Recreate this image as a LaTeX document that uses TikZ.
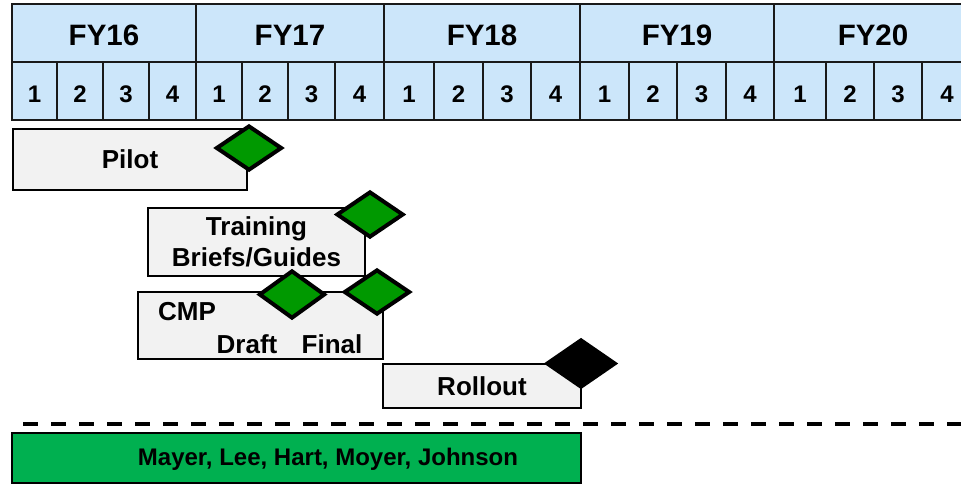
\documentclass[tikz,border=0pt]{standalone}
\usepackage{fontspec}
\setmainfont{Liberation Sans}
\usetikzlibrary{shapes.geometric}
\definecolor{hdr}{HTML}{CCE6FA}
\definecolor{barfill}{HTML}{F2F2F2}
\definecolor{msgreen}{HTML}{009900}
\definecolor{teamgreen}{HTML}{00B050}
\begin{document}
\begin{tikzpicture}[x=1pt,y=-1pt,
  yrbox/.style={draw=black!90, line width=2.5pt, fill=hdr, minimum height=58pt, inner sep=0pt, text height=25pt, text depth=0pt, font=\fontsize{29.5}{34}\selectfont\bfseries},
  qbox/.style={draw=black!90, line width=2pt, fill=hdr, minimum height=58pt, inner sep=0pt, text height=22pt, text depth=0pt, font=\fontsize{24}{28}\selectfont\bfseries},
  bar/.style={draw, line width=2pt, fill=barfill, inner sep=0pt, align=center, font=\fontsize{26}{31}\selectfont\bfseries},
  lbl/.style={inner sep=0pt, font=\fontsize{26}{31}\selectfont\bfseries},
  ms/.style={diamond, draw, line width=4pt, fill=msgreen, inner sep=0pt, minimum width=66pt, minimum height=45pt},
  msblack/.style={ms, fill=black},
  team/.style={draw, line width=2.5pt, fill=teamgreen, inner sep=0pt},
  teamlbl/.style={inner sep=0pt, font=\fontsize{24}{29}\selectfont\bfseries},
  sep/.style={line width=4pt, dash pattern=on 15pt off 13pt}
]
\useasboundingbox (0,0) rectangle (961,485);
\clip (0,0) rectangle (961,485);
% header
\foreach \yr/\a/\b/\c/\d/\e in {16/12/57/103/149/196, 17/196/242/288/335/384, 18/384/434/483/531/580, 19/580/629/677/726/774, 20/774/826/874/922/972}{
  \node[yrbox, minimum width={(\e-\a)*1pt}] (fy\yr) at ({(\a+\e)/2},33) {FY\yr};
  \node[qbox, minimum width={(\b-\a)*1pt}] (q\yr a) at ({(\a+\b)/2},91) {1};
  \node[qbox, minimum width={(\c-\b)*1pt}] (q\yr b) at ({(\b+\c)/2},91) {2};
  \node[qbox, minimum width={(\d-\c)*1pt}] (q\yr c) at ({(\c+\d)/2},91) {3};
  \node[qbox, minimum width={(\e-\d)*1pt}] (q\yr d) at ({(\d+\e)/2},91) {4};
}
% bars
\node[bar, minimum width=234pt, minimum height=61pt] (pilot) at (130,159.5) {Pilot};
\node[bar, minimum width=217pt, minimum height=68pt] (training) at (256.5,242) {Training\\Briefs/Guides};
\node[bar, minimum width=245pt, minimum height=67pt] (cmp) at (260.5,325.5) {};
\node[lbl] (cmplbl) at (187,312) {CMP};
\node[lbl] (draftlbl) at (247,344) {Draft};
\node[lbl] (finallbl) at (332,344) {Final};
\node[bar, minimum width=198pt, minimum height=44pt] (rollout) at (482,386) {Rollout};
% milestones
\node[ms] (mspilot) at (249,148) {};
\node[ms, minimum width=67pt, minimum height=46pt] (mstraining) at (370,214.5) {};
\node[ms, minimum height=48pt] (msdraft) at (292,294.5) {};
\node[ms] (msfinal) at (377,292) {};
\node[msblack, minimum width=69pt, minimum height=48pt] (msrollout) at (581,363.5) {};
% separator
\coordinate (sepl) at (23,424);
\coordinate (sepr) at (961,424);
\draw[sep] (sepl) -- (sepr);
% team
\node[team, minimum width=569pt, minimum height=50pt] (teambox) at (296.5,458) {};
\node[teamlbl] (teamtext) at (328,459) {Mayer, Lee, Hart, Moyer, Johnson};
\end{tikzpicture}
\end{document}
